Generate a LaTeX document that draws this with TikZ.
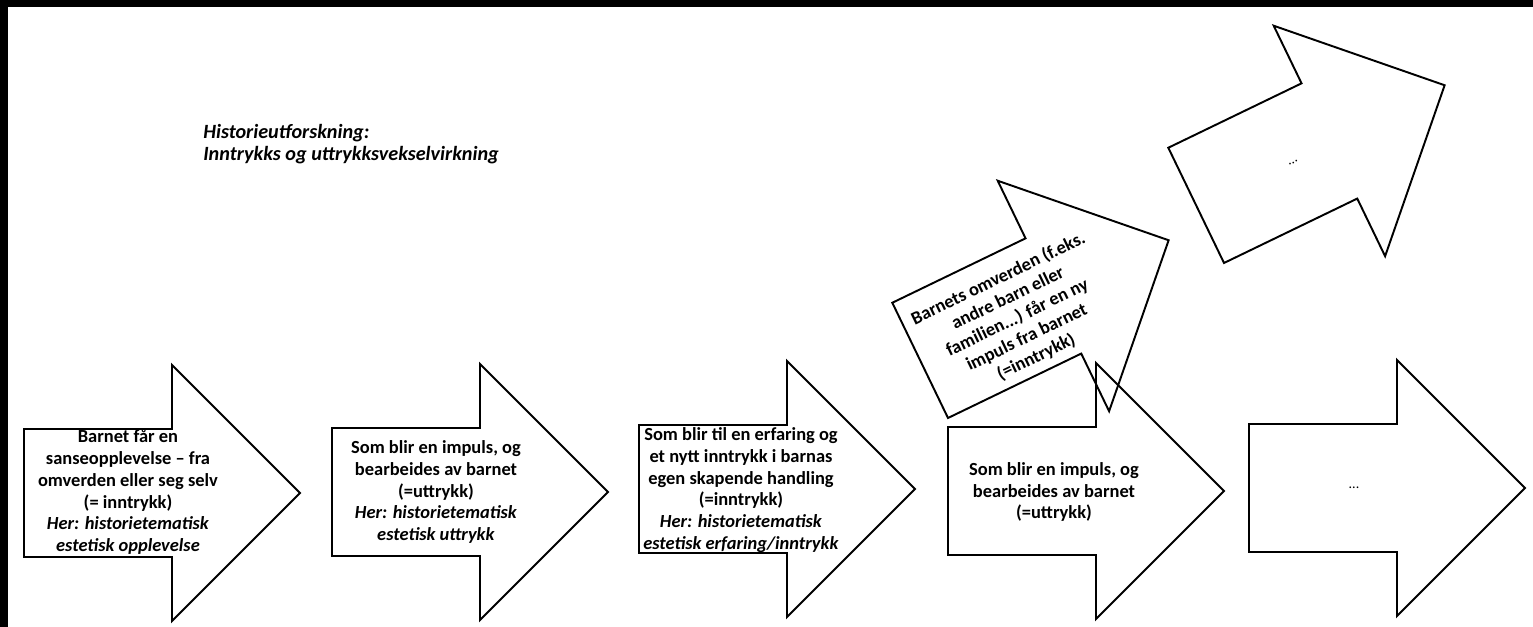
\documentclass[tikz,border=0pt]{standalone}
\usepackage{fontspec}
\setmainfont{Carlito}
\usepackage{tikz}

% one arrow, lower left corner of the shaft at (0,0)
\newcommand{\pilform}{%
  \draw[pil] (0,0) -- (2.96,0) -- (2.96,-1.28) -- (5.52,1.28)
    -- (2.96,3.84) -- (2.96,2.56) -- (0,2.56) -- cycle;}

\tikzset{
  pil/.style={line width=1.1pt, line join=miter},
  piltekst/.style={font=\bfseries\fontsize{10.5}{12.4}\selectfont, align=center},
  tittel/.style={font=\bfseries\itshape\fontsize{11.5}{12.6}\selectfont, align=left, anchor=west, inner sep=0pt},
}

\begin{document}
\begin{tikzpicture}

    \useasboundingbox (0,0) rectangle (30.66,12.54);
    \fill[black] (0,12.40) rectangle (30.66,12.54);
    \fill[black] (0,0) rectangle (0.16,12.54);

    \node[tittel] (tittel) at (4.06,9.66)
      {Historieutforskning:\\Inntrykks og uttrykksvekselvirkning};



    \begin{scope}[shift={(0.48,1.40)}]

      \pilform
      \node[piltekst] (inntrykk) at (2.08,1.3)
        {Barnet får en\\sanseopplevelse -- fra\\omverden eller seg selv\\(= inntrykk)\\
         \textit{Her: historietematisk}\\\textit{estetisk opplevelse}};

    \end{scope}



    \begin{scope}[shift={(6.64,1.42)}]

      \pilform
      \node[piltekst] (uttrykk) at (2.08,1.28)
        {Som blir en impuls, og\\bearbeides av barnet\\(=uttrykk)\\
         \textit{Her: historietematisk}\\\textit{estetisk uttrykk}};

    \end{scope}



    \begin{scope}[shift={(12.78,1.48)}]

      \pilform
      \node[piltekst] (erfaring) at (2.04,1.26)
        {Som blir til en erfaring og\\et nytt inntrykk i barnas\\egen skapende handling\\(=inntrykk)\\
         \textit{Her: historietematisk}\\\textit{estetisk erfaring/inntrykk}};

    \end{scope}



    \begin{scope}[shift={(18.96,1.44)}]

      \pilform
      \node[piltekst] (impuls) at (2.12,1.26)
        {Som blir en impuls, og\\bearbeides av barnet\\(=uttrykk)};

    \end{scope}



    \begin{scope}[shift={(24.98,1.50)}]

      \pilform
      \node[piltekst, font=\fontsize{8}{9}\selectfont] (videre) at (2.1,1.28) {...};

    \end{scope}



    \begin{scope}[shift={(18.96,4.18)}, rotate=25.8]

      \pilform
      \node[piltekst, rotate=25.8] (omverden) at (2.12,1.2)
        {Barnets omverden (f.eks.\\andre barn eller\\familien...) får en ny\\impuls fra barnet\\(=inntrykk)};

    \end{scope}



    \begin{scope}[shift={(24.48,7.28)}, rotate=25.8]

      \pilform
      \node[piltekst, font=\fontsize{8}{9}\selectfont, rotate=25.8] (videreopp) at (2.12,1.2) {...};

    \end{scope}

  \end{tikzpicture}
\end{document}
